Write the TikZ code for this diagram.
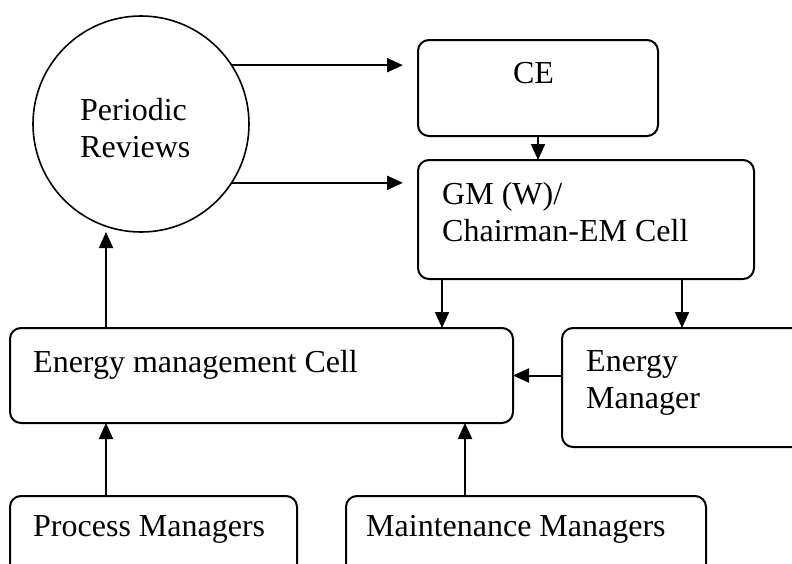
\documentclass[tikz,border=0pt]{standalone}
\usepackage{fontspec}
\setmainfont{Liberation Serif}
\usetikzlibrary{arrows.meta}
\begin{document}
\begin{tikzpicture}[x=1pt,y=-1pt,
  every node/.style={font=\fontsize{32}{36.8}\selectfont},
  box/.style={draw, line width=2pt, rounded corners=11pt, rectangle, outer sep=0pt, inner sep=0pt},
  ring/.style={draw, line width=1.6pt, circle, outer sep=0pt, inner sep=0pt, minimum size=216pt},
  txt/.style={anchor=base west, align=left, inner sep=0pt},
  arr/.style={line width=2pt, -{Triangle[length=16pt,width=14pt]}}]
\useasboundingbox (0,0) rectangle (792,563);
\begin{scope}
\clip (0,0) rectangle (792,563);
% boxes
\node[ring] (rev) at (141,124) {};
\node[box, minimum width=240pt, minimum height=96pt] (ce) at (538,88) {};
\node[box, minimum width=336pt, minimum height=119pt] (gm) at (586,219.5) {};
\node[box, minimum width=503pt, minimum height=95pt] (emc) at (261.5,375.5) {};
\node[box, minimum width=268pt, minimum height=119pt] (em) at (696,387.5) {};
\node[box, minimum width=287pt, minimum height=104pt] (proc) at (153.5,548) {};
\node[box, minimum width=360pt, minimum height=104pt] (maint) at (526,548) {};
% labels (base anchor of a two-line label sits on its last line)
\node[txt] (revt) at (80,157.5) {Periodic\\Reviews};
\node[anchor=base, inner sep=0pt] (cet) at (533.5,83.5) {CE};
\node[txt] (gmt) at (442,241) {GM (W)/\\Chairman-EM Cell};
\node[txt] (emct) at (33,372) {Energy management Cell};
\node[txt] (emt) at (586,408) {Energy\\Manager};
\node[txt] (proct) at (33,536) {Process Managers};
\node[txt] (maintt) at (366,536) {Maintenance Managers};
% connectors
\draw[arr, shorten >=15pt] (rev.33.7) -- (rev.33.7 -| ce.west);
\draw[arr, shorten >=15pt] (rev.-33.7) -- (rev.-33.7 -| gm.west);
\draw[arr] (ce.south) -- (ce.south |- gm.north);
\draw[arr] ([xshift=24pt]gm.south west) -- ([xshift=24pt]gm.south west |- emc.north);
\draw[arr] ([xshift=-72pt]gm.south east) -- ([xshift=-72pt]gm.south east |- em.north);
\draw[arr] (emc.east -| em.west) -- (emc.east);
\draw[arr] ([xshift=96pt]emc.north west) -- ([xshift=96pt]emc.north west |- rev.south);
\draw[arr] ([xshift=96pt]proc.north west) -- ([xshift=96pt]proc.north west |- emc.south);
\draw[arr] ([xshift=119pt]maint.north west) -- ([xshift=119pt]maint.north west |- emc.south);
\end{scope}
\end{tikzpicture}
\end{document}
